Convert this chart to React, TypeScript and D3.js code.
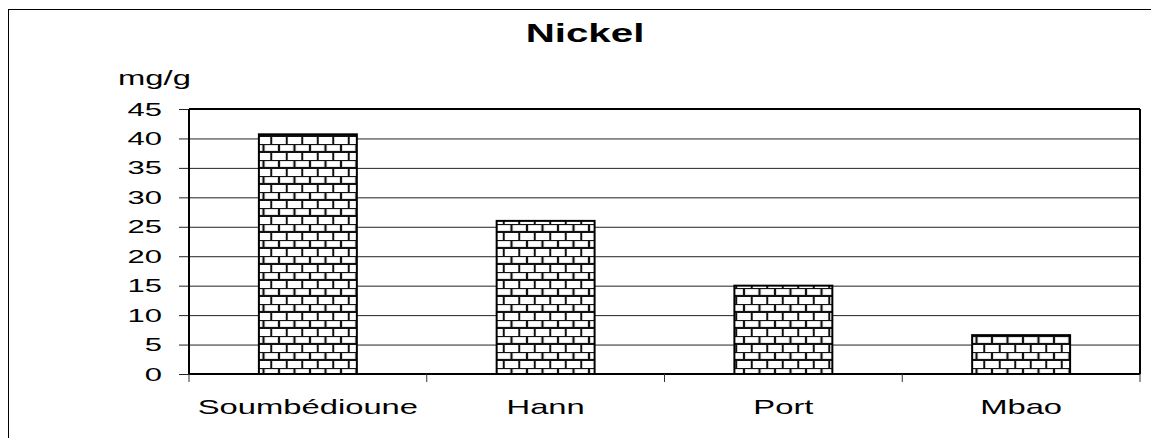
import React from "react";
import * as d3 from "d3";

// Nickel concentration by site
const categories = ["Soumbédioune", "Hann", "Port", "Mbao"];
const nickel = [40.7, 26.0, 15.0, 6.6];
const yTicks = [0, 5, 10, 15, 20, 25, 30, 35, 40, 45];
const chartTitle = "Nickel";
const unitLabel = "mg/g";

const W = 1151;
const H = 438;
const plot = { left: 189, right: 1140, top: 109, bottom: 374 };
const FONT = "'Liberation Sans', Arial, sans-serif";

export default function App() {
  const x = d3
    .scaleBand<string>()
    .domain(categories)
    .range([plot.left, plot.right])
    .paddingInner(0.588)
    .paddingOuter(0.294);
  const y = d3.scaleLinear().domain([0, 45]).range([plot.bottom, plot.top]);
  const step = x.step();
  const edges = d3.range(categories.length + 1).map((i) => plot.left + i * step);

  return (
    <svg
      width={W}
      height={H}
      style={{ position: "absolute", left: 0, top: 0, background: "#fff" }}
      fontFamily={FONT}
    >
      <defs>
        <pattern id="brick" patternUnits="userSpaceOnUse" width={15.5} height={16} x={0} y={0}>
          <rect width={15.5} height={16} fill="#fff" />
          <rect x={1} y={1} width={13.5} height={6} fill="none" stroke="#c8c8c8" strokeWidth={1} />
          <line x1={0} x2={15.5} y1={0} y2={0} stroke="#111" strokeWidth={2} />
          <line x1={0} x2={15.5} y1={8} y2={8} stroke="#111" strokeWidth={2} />
          <line x1={15.5} x2={15.5} y1={0} y2={8} stroke="#111" strokeWidth={2} />
          <line x1={0} x2={0} y1={0} y2={8} stroke="#111" strokeWidth={2} />
          <line x1={7.75} x2={7.75} y1={8} y2={16} stroke="#111" strokeWidth={2} />
        </pattern>
      </defs>

      {/* outer chart frame */}
      <rect x={8.5} y={9.5} width={1160} height={440} fill="#fff" stroke="#000" strokeWidth={1} />

      <text
        transform={`translate(585,42) scale(1.55,1)`}
        textAnchor="middle"
        fontSize={26}
        fontWeight="bold"
      >
        {chartTitle}
      </text>

      <text transform={`translate(118,85) scale(1.64,1)`} fontSize={20}>
        {unitLabel}
      </text>

      {/* gridlines and y ticks */}
      {yTicks.map((t) => (
        <g key={t}>
          <line x1={plot.left - 10} x2={plot.right} y1={y(t) + 0.5} y2={y(t) + 0.5} stroke="#222" strokeWidth={1} />
          <text
            transform={`translate(162,${y(t) + 6.5}) scale(1.72,1)`}
            textAnchor="end"
            fontSize={18}
          >
            {t}
          </text>
        </g>
      ))}

      {/* bars */}
      {categories.map((c, i) => (
        <rect
          key={c}
          x={x(c)!}
          y={y(nickel[i])}
          width={x.bandwidth()}
          height={plot.bottom - y(nickel[i])}
          fill="url(#brick)"
          stroke="#000"
          strokeWidth={2}
        />
      ))}

      {/* plot border: top and right */}
      <line x1={plot.left} x2={plot.right} y1={plot.top} y2={plot.top} stroke="#000" strokeWidth={2} />
      <line x1={plot.right} x2={plot.right} y1={plot.top} y2={plot.bottom} stroke="#000" strokeWidth={2} />

      {/* axes */}
      <line x1={plot.left} x2={plot.left} y1={plot.top} y2={plot.bottom} stroke="#000" strokeWidth={2} />
      <line x1={plot.left} x2={plot.right} y1={plot.bottom} y2={plot.bottom} stroke="#000" strokeWidth={2} />
      {edges.map((e, i) => (
        <line key={i} x1={e} x2={e} y1={plot.bottom} y2={plot.bottom + 8} stroke="#333" strokeWidth={1} />
      ))}

      {categories.map((c) => (
        <text
          key={c}
          transform={`translate(${x(c)! + x.bandwidth() / 2},414) scale(1.56,1)`}
          textAnchor="middle"
          fontSize={21}
        >
          {c}
        </text>
      ))}
    </svg>
  );
}
